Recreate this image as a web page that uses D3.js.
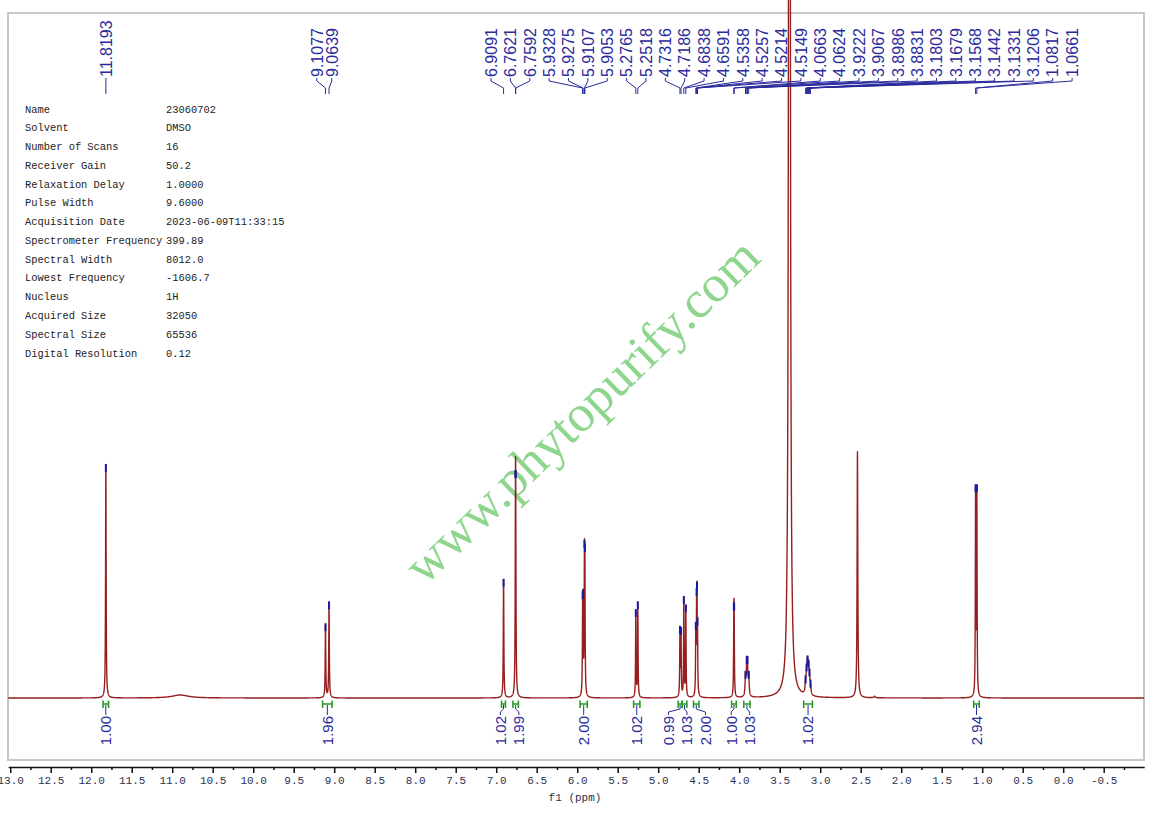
<!DOCTYPE html>
<html>
<head>
<meta charset="utf-8">
<script src="https://cdn.jsdelivr.net/npm/d3@7/dist/d3.min.js"></script>
<style>
body { margin: 0; background: #fff; }
</style>
</head>
<body>
<div id="chart"></div>
<script>
// line shape components: shift (ppm), height, half width (ppm)
var peakPpm    = [11.8193, 10.90, 9.1077, 9.0639, 6.9091, 6.7621, 6.7592, 5.9328, 5.9275, 5.9107, 5.9053, 5.2765, 5.2518, 4.7316, 4.7186, 4.6838, 4.6591, 4.5358, 4.5257, 4.5214, 4.5149, 4.0663, 4.0624, 3.9222, 3.9067, 3.8986, 3.8831, 3.38, 3.1803, 3.1679, 3.1568, 3.1442, 3.1331, 3.1206, 2.54, 2.33, 1.0817, 1.0661];
var peakHeight = [233, 3, 73, 95, 118, 137, 137, 78, 76, 118, 115, 86, 94, 66, 64, 98, 90, 62, 68, 72, 55, 65, 65, 20, 27, 27, 20, 3000, 11, 19, 27, 23, 16, 9, 246, 1.5, 203, 203];
var peakWidth  = [0.004, 0.12, 0.004, 0.004, 0.004, 0.004, 0.004, 0.0035, 0.0035, 0.0035, 0.0035, 0.0035, 0.0035, 0.0035, 0.0035, 0.0035, 0.0035, 0.0035, 0.0035, 0.0035, 0.0035, 0.0035, 0.0035, 0.006, 0.006, 0.006, 0.006, 0.0066, 0.0065, 0.0065, 0.0065, 0.0065, 0.0065, 0.0065, 0.005, 0.01, 0.0035, 0.0035];

// peak labels at the top, in three groups
var labelGroup1 = [11.8193];
var labelGroup2 = [9.1077, 9.0639];
var labelGroup3 = [6.9091, 6.7621, 6.7592, 5.9328, 5.9275, 5.9107, 5.9053, 5.2765, 5.2518, 4.7316, 4.7186, 4.6838, 4.6591, 4.5358, 4.5257, 4.5214, 4.5149, 4.0663, 4.0624, 3.9222, 3.9067, 3.8986, 3.8831, 3.1803, 3.1679, 3.1568, 3.1442, 3.1331, 3.1206, 1.0817, 1.0661];

// integrals
var intFrom  = [11.86, 9.15, 6.94, 6.80, 5.97, 5.31, 4.76, 4.71, 4.57, 4.10, 3.95, 3.21, 1.11];
var intTo    = [11.78, 9.02, 6.88, 6.72, 5.87, 5.22, 4.70, 4.64, 4.49, 4.03, 3.86, 3.09, 1.03];
var intValue = ["1.00", "1.96", "1.02", "1.99", "2.00", "1.02", "0.99", "1.03", "2.00", "1.00", "1.03", "1.02", "2.94"];

// axis
var xTicks = [13.0, 12.5, 12.0, 11.5, 11.0, 10.5, 10.0, 9.5, 9.0, 8.5, 8.0, 7.5, 7.0, 6.5, 6.0, 5.5, 5.0, 4.5, 4.0, 3.5, 3.0, 2.5, 2.0, 1.5, 1.0, 0.5, 0.0, -0.5];
var xMinorTicks = [12.75, 12.25, 11.75, 11.25, 10.75, 10.25, 9.75, 9.25, 8.75, 8.25, 7.75, 7.25, 6.75, 6.25, 5.75, 5.25, 4.75, 4.25, 3.75, 3.25, 2.75, 2.25, 1.75, 1.25, 0.75, 0.25, -0.25, -0.75];

// acquisition parameters
var infoNames  = ["Name", "Solvent", "Number of Scans", "Receiver Gain", "Relaxation Delay", "Pulse Width", "Acquisition Date", "Spectrometer Frequency", "Spectral Width", "Lowest Frequency", "Nucleus", "Acquired Size", "Spectral Size", "Digital Resolution"];
var infoValues = ["23060702", "DMSO", "16", "50.2", "1.0000", "9.6000", "2023-06-09T11:33:15", "399.89", "8012.0", "-1606.7", "1H", "32050", "65536", "0.12"];

var w = 1155, h = 818;
var blue = "#2a2a9c", green = "#2a9a2a", red = "#961e1e";

var svg = d3.select("#chart").append("svg").attr("width", w).attr("height", h);

var x = d3.scaleLinear().domain([13.025, -1.0]).range([8.2, 1144.2]);
var y = d3.scaleLinear().domain([0, 685]).range([698, 13]);

function intensity(p) {
    var s = 0;
    for (var i = 0; i < peakPpm.length; i++) {
        var d = (p - peakPpm[i]) / peakWidth[i];
        s += peakHeight[i] / (1 + d * d);
    }
    return s;
}

// frame
svg.append("rect")
    .attr("x", 8).attr("y", 13).attr("width", 1136).attr("height", 747)
    .attr("fill", "none").attr("stroke", "#c8c8c8").attr("stroke-width", 2);

// watermark
svg.append("text")
    .attr("transform", "translate(583,412) rotate(-44)")
    .attr("text-anchor", "middle")
    .attr("dy", "0.3em")
    .attr("textLength", 470)
    .attr("lengthAdjust", "spacingAndGlyphs")
    .style("font-family", "'Liberation Serif', 'Times New Roman', serif")
    .style("font-size", "52px")
    .style("fill", "#8ed68e")
    .text("www.phytopurify.com");

// info block
var info = svg.append("g").style("font-family", "'Liberation Mono', monospace").style("font-size", "10.4px").style("fill", "#222");
infoNames.forEach(function(n, i) {
    info.append("text").attr("x", 25).attr("y", 112.5 + i * 18.77).text(n);
    info.append("text").attr("x", 166).attr("y", 112.5 + i * 18.77).text(infoValues[i]);
});

// spectrum
var pts = [];
for (var p = 13.025; p >= -1.0; p -= 0.001) pts.push([p, intensity(p)]);
var line = d3.line().x(function(d) { return x(d[0]); }).y(function(d) { return y(d[1]); });
svg.append("path").datum(pts)
    .attr("d", line)
    .attr("fill", "none")
    .attr("stroke", red)
    .attr("stroke-width", 1.4)
    .attr("stroke-linejoin", "round");

// peak top marks
var allLabels = labelGroup1.concat(labelGroup2, labelGroup3);
svg.selectAll(".pmark").data(allLabels).enter().append("line")
    .attr("class", "pmark")
    .attr("x1", function(d) { return x(d); }).attr("x2", function(d) { return x(d); })
    .attr("y1", function(d) { return y(intensity(d)) - 1; })
    .attr("y2", function(d) { return y(intensity(d)) + 7; })
    .attr("stroke", "#1a1aa0").attr("stroke-width", 2);

// top peak labels
var labelPos = [];
labelGroup1.forEach(function(d) { labelPos.push({ppm: d, lx: x(d)}); });
var c2 = d3.mean(labelGroup2, function(d) { return x(d); }) - 3;
labelGroup2.forEach(function(d, i) { labelPos.push({ppm: d, lx: c2 + (i - 0.5) * 15}); });
labelGroup3.forEach(function(d, i) { labelPos.push({ppm: d, lx: 491 + i * 19.37}); });

var lab = svg.append("g");
lab.selectAll("path").data(labelPos).enter().append("path")
    .attr("d", function(d) {
        var px = x(d.ppm);
        return "M" + d.lx + ",78 L" + d.lx + ",81 L" + px + ",88 L" + px + ",94";
    })
    .attr("fill", "none").attr("stroke", blue).attr("stroke-width", 1);
lab.selectAll("text").data(labelPos).enter().append("text")
    .attr("transform", function(d) { return "translate(" + d.lx + ",77) rotate(-90)"; })
    .attr("dy", "0.36em")
    .style("font-family", "'Liberation Sans', Arial, sans-serif")
    .style("font-size", "16px")
    .style("fill", blue)
    .text(function(d) { return d.ppm.toFixed(4); });

// integrals
var ints = intValue.map(function(v, i) {
    var cx = (x(intFrom[i]) + x(intTo[i])) / 2;
    return {v: v, x0: x(intFrom[i]), x1: x(intTo[i]), cx: cx, lx: cx};
});
for (var it = 0; it < 200; it++) {
    for (var i = 1; i < ints.length; i++) {
        var gap = ints[i].lx - ints[i - 1].lx;
        if (gap < 18.5) {
            var sh = (18.5 - gap) / 2;
            ints[i].lx += sh; ints[i - 1].lx -= sh;
        }
    }
}
var ig = svg.append("g");
ints.forEach(function(d) {
    var xa = Math.min(d.x0, d.x1) + 0.5, xb = Math.max(d.x0, d.x1) - 0.5;
    ig.append("path")
        .attr("d", "M" + xa + ",700.5 L" + xa + ",708 M" + xa + ",704 L" + xb + ",704 M" + xb + ",700.5 L" + xb + ",708")
        .attr("fill", "none").attr("stroke", green).attr("stroke-width", 1.6);
    ig.append("path")
        .attr("d", "M" + d.cx + ",705 L" + d.cx + ",709 L" + d.lx + ",712 L" + d.lx + ",715")
        .attr("fill", "none").attr("stroke", blue).attr("stroke-width", 1);
    ig.append("text")
        .attr("transform", "translate(" + d.lx + ",716) rotate(-90)")
        .attr("text-anchor", "end")
        .attr("dy", "0.36em")
        .style("font-family", "'Liberation Sans', Arial, sans-serif")
        .style("font-size", "15px")
        .style("fill", blue)
        .text(d.v);
});

// x axis
var minorAxis = d3.axisBottom(x).tickValues(xMinorTicks).tickSize(3).tickSizeOuter(0).tickFormat("");
var majorAxis = d3.axisBottom(x).tickValues(xTicks).tickSize(6).tickSizeOuter(0).tickFormat(function(d) { return d.toFixed(1); });
var gMinor = svg.append("g").attr("transform", "translate(0,767)").call(minorAxis);
gMinor.select(".domain").remove();
var gMajor = svg.append("g").attr("transform", "translate(0,767)").call(majorAxis);
svg.selectAll(".tick line").attr("stroke", "#111").attr("stroke-width", 1.5);
gMajor.select(".domain").attr("stroke", "#111").attr("stroke-width", 1.5);
gMajor.selectAll("text")
    .style("font-family", "'Liberation Mono', monospace")
    .style("font-size", "11px")
    .style("fill", "#2c3050");

svg.append("text")
    .attr("x", 575).attr("y", 801)
    .attr("text-anchor", "middle")
    .style("font-family", "'Liberation Mono', monospace")
    .style("font-size", "11px")
    .style("fill", "#2c3050")
    .text("f1 (ppm)");
</script>
</body>
</html>
